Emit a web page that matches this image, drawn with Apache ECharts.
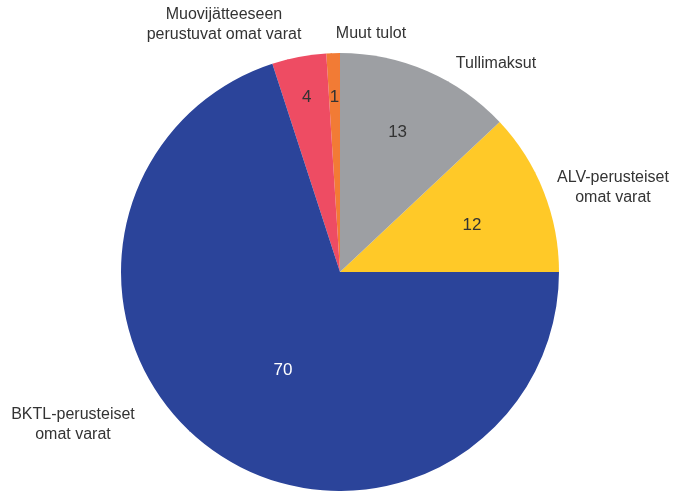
<!DOCTYPE html>
<html>
<head>
<meta charset="utf-8">
<script src="https://cdn.jsdelivr.net/npm/echarts@6/dist/echarts.min.js"></script>
<style>
  html, body { margin: 0; padding: 0; background: #fff; }
  #chart { width: 675px; height: 491px; }
</style>
</head>
<body>
<div id="chart"></div>
<script>
// data, counter-clockwise from 3 o'clock
const names = ['ALV-perusteiset\nomat varat', 'Tullimaksut', 'Muut tulot', 'Muovijätteeseen\nperustuvat omat varat', 'BKTL-perusteiset\nomat varat']
const values = [12, 13, 1, 4, 70]
const colors = ['#FFC928', '#9D9FA3', '#F27B35', '#EE4C63', '#2B449A']
const valueColors = ['#333', '#333', '#333', '#333', '#fff']

const CX = 340, CY = 272, R = 219
// where inside numbers sit: fraction of radius, angle tweak (deg)
const innerPos = [[0.64, -2], [0.69, 1], [0.8, 0], [0.81, 0], [0.52, 6]]
// name label anchors (centre of text block)
const namePos = [[613, 188], [496, 64], [371, 34], [224, 25], [73, 425]]

const total = values.reduce((a, b) => a + b, 0)
const midAngles = []
let acc = 0
values.forEach(v => { midAngles.push((acc + v / 2) / total * 360); acc += v })

function polar(deg, dist) {
  const a = deg * Math.PI / 180
  return [CX + dist * Math.cos(a), CY - dist * Math.sin(a)]
}

const font = 'Liberation Sans'
const c = echarts.init(document.getElementById('chart'))
c.setOption({
  animation: false,
  series: [
    {
      type: 'pie',
      center: [CX, CY], radius: R,
      startAngle: 0, clockwise: false,
      avoidLabelOverlap: false,
      itemStyle: { borderWidth: 0 },
      data: values.map((v, i) => ({
        value: v, name: names[i],
        itemStyle: { color: colors[i] },
        label: { color: valueColors[i] },
      })),
      label: { position: 'inside', formatter: '{c}', fontFamily: font, fontSize: 17 },
      labelLayout: p => {
        const [f, d] = innerPos[p.dataIndex]
        const [x, y] = polar(midAngles[p.dataIndex] + d, f * R)
        return { x, y, align: 'center', verticalAlign: 'middle' }
      },
    },
    {
      type: 'pie',
      silent: true,
      center: [CX, CY], radius: R,
      startAngle: 0, clockwise: false,
      avoidLabelOverlap: false,
      itemStyle: { color: 'transparent' },
      data: values.map((v, i) => ({ value: v, name: names[i] })),
      label: {
        position: 'outside', formatter: '{b}', color: '#333',
        fontFamily: font, fontSize: 16, lineHeight: 20, align: 'center',
      },
      labelLine: { show: false },
      labelLayout: p => {
        const [x, y] = namePos[p.dataIndex]
        return { x, y, align: 'center', verticalAlign: 'middle' }
      },
    },
  ],
})
</script>
</body>
</html>
